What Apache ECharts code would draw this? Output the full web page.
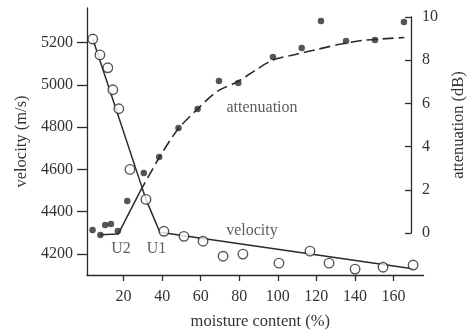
<!DOCTYPE html>
<html><head><meta charset="utf-8">
<script src="https://cdn.jsdelivr.net/npm/echarts@6/dist/echarts.min.js"></script>
<style>html,body{margin:0;padding:0;background:#fff}#c{width:475px;height:335px}</style>
</head><body><div id="c"></div>
<script>
// moisture content (%) and velocity (m/s) – open circles
const velX = [4.0, 7.7, 11.8, 14.4, 17.5, 23.3, 31.6, 40.9, 51.3, 61.2, 71.6, 81.9, 100.6, 116.7, 126.6, 140.1, 154.6, 170.2];
const velV = [5217, 5142, 5081, 4977, 4887, 4600, 4458, 4307, 4283, 4260, 4189, 4199, 4156, 4213, 4156, 4128, 4137, 4147];
// moisture content (%) and attenuation (dB) – filled dots
const attX = [4.0, 8.2, 10.8, 13.9, 17.6, 22.7, 31.6, 39.9, 50.3, 60.6, 72.1, 82.5, 101.2, 116.7, 127.1, 140.6, 156.2, 171.8];
const attV = [0.14, -0.09, 0.37, 0.42, 0.09, 1.48, 2.78, 3.52, 4.86, 5.74, 7.04, 6.94, 8.15, 8.56, 9.81, 8.89, 8.94, 9.77];
// fitted velocity line
const velFitX = [4.0, 31.6, 38.8, 170];
const velFitV = [5217, 4458, 4302, 4130];
// fitted attenuation: solid part (U2 region) and dashed part
const attSolidX = [8, 17.8, 29.5];
const attSolidV = [-0.08, -0.05, 1.9];
const attDashX = [29.5, 40, 50, 60.6, 71, 82, 92, 101, 115, 125, 138, 150, 172];
const attDashV = [1.9, 3.5, 4.8, 5.74, 6.55, 7.0, 7.55, 8.0, 8.3, 8.5, 8.75, 8.92, 9.05];
// tick labels
const xTicks = [20, 40, 60, 80, 100, 120, 140, 160];
const velTicks = [4200, 4400, 4600, 4800, 5000, 5200];
const attTicks = [0, 2, 4, 6, 8, 10];
// annotations (placed in data coordinates of moisture / velocity)
const notes = ['attenuation', 'velocity', 'U2', 'U1'];
const noteX = [91.8, 86.6, 18.6, 37.1];
const noteV = [4892, 4307, 4222, 4222];

const ink = '#2b2b2b';
const txt = '#333';
const font = 'Liberation Serif';
const zip = (a, b) => a.map((v, i) => [v, b[i]]);
const plain = v => String(v);

const chart = echarts.init(document.getElementById('c'), null, {renderer: 'canvas'});
chart.setOption({
  animation: false,
  backgroundColor: '#fff',
  grid: [
    {left: 87, right: 51.5, top: 8, bottom: 59},
    {left: 87, right: 51.5, top: 17, bottom: 102}
  ],
  xAxis: [
    {type: 'value', gridIndex: 0, min: 1, max: 175.6,
     axisLine: {show: true, lineStyle: {color: ink, width: 1.3}},
     axisTick: {show: true, length: 6, customValues: xTicks, lineStyle: {color: ink, width: 1.3}},
     axisLabel: {customValues: xTicks, formatter: plain, margin: 14, color: txt, fontFamily: font, fontSize: 16},
     splitLine: {show: false},
     name: 'moisture content (%)', nameLocation: 'middle', nameGap: 38,
     nameTextStyle: {color: txt, fontFamily: font, fontSize: 16.5, padding: [0, 0, 0, 10]}},
    {type: 'value', gridIndex: 1, min: 1, max: 175.6, show: false}
  ],
  yAxis: [
    {type: 'value', gridIndex: 0, min: 4100, max: 5364, position: 'left',
     axisLine: {show: true, lineStyle: {color: ink, width: 1.3}},
     axisTick: {show: true, length: 10, customValues: velTicks, lineStyle: {color: ink, width: 1.3}},
     axisLabel: {customValues: velTicks, formatter: plain, margin: 14, color: txt, fontFamily: font, fontSize: 16},
     splitLine: {show: false},
     name: 'velocity (m/s)', nameLocation: 'middle', nameRotate: 90, nameGap: 48,
     nameTextStyle: {color: txt, fontFamily: font, fontSize: 16.5}},
    {type: 'value', gridIndex: 1, min: 0, max: 10, position: 'right',
     axisLine: {show: true, lineStyle: {color: ink, width: 1.3}},
     axisTick: {show: true, inside: true, length: 6, customValues: attTicks, lineStyle: {color: ink, width: 1.3}},
     axisLabel: {customValues: attTicks, formatter: plain, margin: 11, color: txt, fontFamily: font, fontSize: 16},
     splitLine: {show: false},
     name: 'attenuation (dB)', nameLocation: 'middle', nameRotate: 90, nameGap: 39,
     nameTextStyle: {color: txt, fontFamily: font, fontSize: 16.5}}
  ],
  series: [
    {type: 'line', xAxisIndex: 0, yAxisIndex: 0, data: zip(velFitX, velFitV), symbol: 'none', clip: false,
     lineStyle: {color: ink, width: 1.5}, z: 2},
    {type: 'line', xAxisIndex: 1, yAxisIndex: 1, data: zip(attSolidX, attSolidV), symbol: 'none', clip: false,
     lineStyle: {color: ink, width: 1.5}, z: 2},
    {type: 'line', xAxisIndex: 1, yAxisIndex: 1, data: zip(attDashX, attDashV), symbol: 'none', smooth: 0.3, clip: false,
     lineStyle: {color: ink, width: 1.6, type: [11, 5]}, z: 2},
    {type: 'scatter', xAxisIndex: 0, yAxisIndex: 0, data: zip(velX, velV), symbol: 'circle', symbolSize: 9.5, clip: false,
     itemStyle: {color: '#fff', borderColor: ink, borderWidth: 1.4}, z: 4},
    {type: 'scatter', xAxisIndex: 1, yAxisIndex: 1, data: zip(attX, attV), symbol: 'circle', symbolSize: 6.5, clip: false,
     itemStyle: {color: ink}, z: 4},
    {type: 'scatter', xAxisIndex: 0, yAxisIndex: 0, symbolSize: 0, silent: true, z: 5, clip: false,
     data: notes.map((t, i) => ({value: [noteX[i], noteV[i]], label: {formatter: t}})),
     label: {show: true, position: 'inside', color: txt, fontFamily: font, fontSize: 16}}
  ]
});
</script>
</body></html>
